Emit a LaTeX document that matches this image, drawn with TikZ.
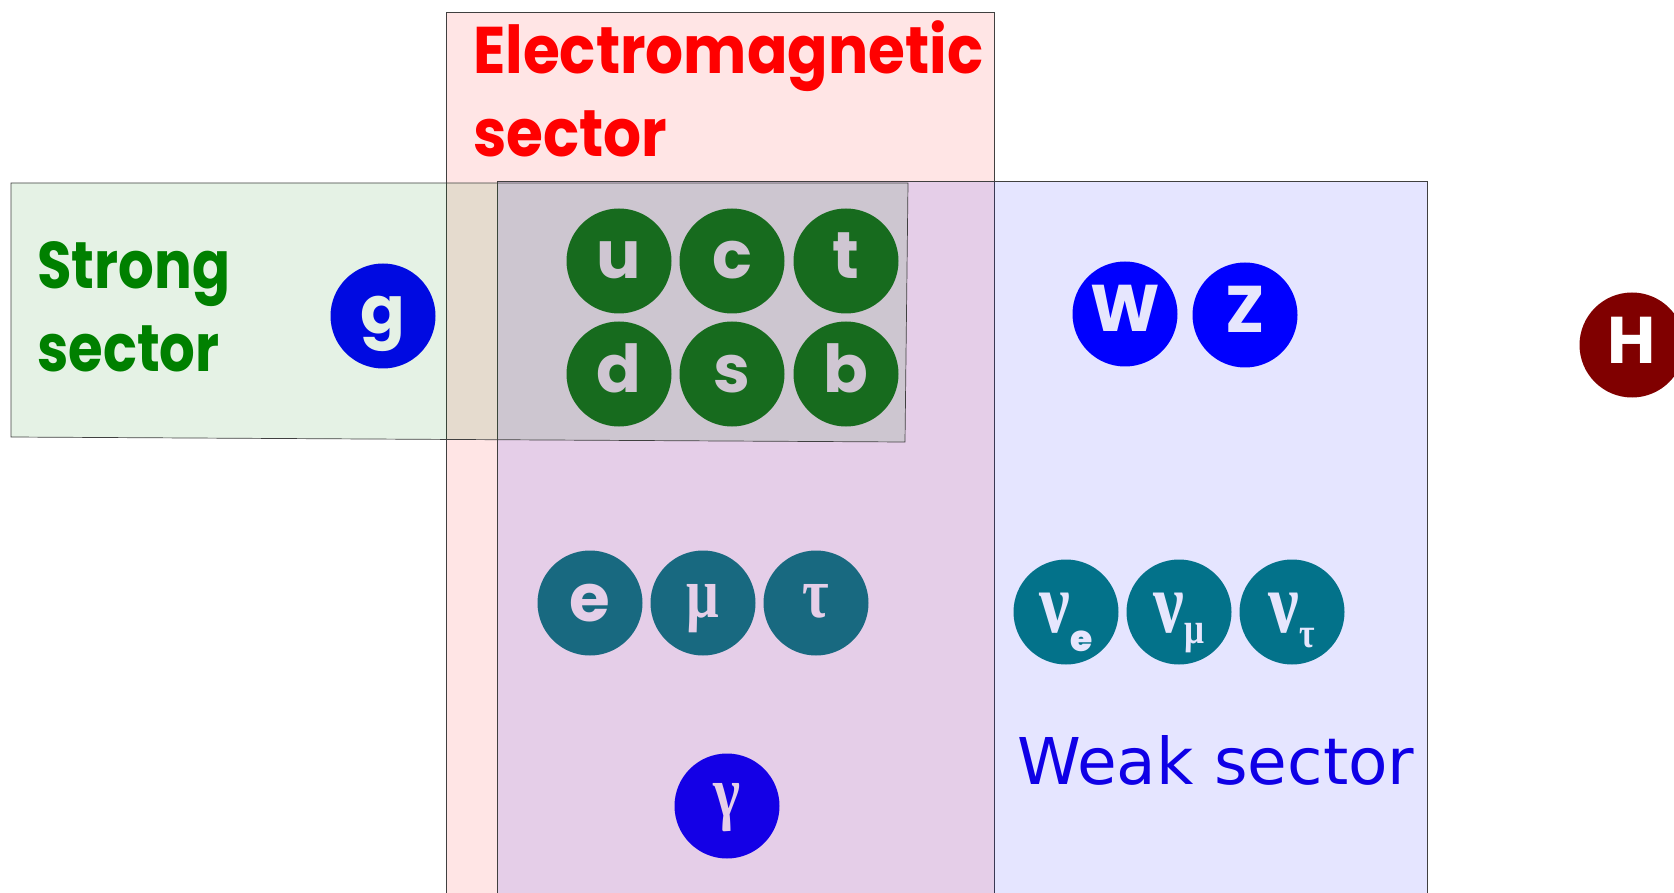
\documentclass[tikz,border=0pt]{standalone}
\usepackage{fontspec}
\newfontfamily\secfont{Poppins Bold}[FakeStretch=0.85]
\newfontfamily\emfont{Poppins Bold}[FakeStretch=0.905]
\newfontfamily\ltrfont{Poppins Bold}
\newfontfamily\gkfont{Liberation Serif}[FakeStretch=0.8]
\newfontfamily\weakfont{DejaVu Sans}
\definecolor{quark}{RGB}{23,107,30}
\definecolor{gluon}{RGB}{0,10,225}
\definecolor{lepton}{RGB}{24,105,128}
\definecolor{neutrino}{RGB}{3,114,138}
\definecolor{photon}{RGB}{20,0,230}
\definecolor{boson}{RGB}{0,0,255}
\definecolor{higgs}{RGB}{128,0,0}
\definecolor{strongtxt}{RGB}{0,128,0}
\definecolor{weaktxt}{RGB}{15,0,230}
\definecolor{strongbg}{RGB}{229,241,229}
\definecolor{threebg}{RGB}{207,198,210}
\definecolor{emweakbg}{RGB}{229,207,232}
\definecolor{weakbg}{RGB}{230,230,253}

\begin{document}
\begin{tikzpicture}[x=1pt,y=-1pt,
  sectorbox/.style={draw=black!75,line width=0.7pt,fill opacity=0.1},
  title/.style={anchor=base west,inner sep=0pt,font=\secfont\fontsize{66}{66}\selectfont},
  particle/.style={circle,minimum size=105pt,inner sep=0pt,text height=36pt,text depth=0pt,
    font=\ltrfont\fontsize{66}{66}\selectfont},
  greek/.style={text height=28pt,font=\gkfont\bfseries\fontsize{72}{72}\selectfont},
  neutr/.style={particle,fill=neutrino,text=weakbg,text height=40pt,
    font=\gkfont\bfseries\fontsize{86}{86}\selectfont}]
\useasboundingbox (0,0) rectangle (1674,893);
\clip (0,0) rectangle (1674,893);
\draw[sectorbox,fill=red] (446,12) rectangle (994,920);
\draw[sectorbox,fill=blue] (497,181) rectangle (1427,920);
\draw[sectorbox,fill=green!50!black] (11,183) -- (908,183) -- (905,442) -- (11,437) -- cycle;

\node[title,text=red,font=\emfont\fontsize{66}{66}\selectfont] (em1) at (473,74) {Electromagnetic};
\node[title,text=red,font=\emfont\fontsize{66}{66}\selectfont] (em2) at (473,157) {sector};
\node[title,text=strongtxt] (st1) at (37,289) {Strong};
\node[title,text=strongtxt] (st2) at (37,372) {sector};
\node[anchor=base west,inner sep=0pt,text=weaktxt,font=\weakfont\fontsize{64.5}{64.5}\selectfont] (wk) at (1017,784) {Weak sector};

\node[particle,fill=gluon,text=strongbg] (g) at (383,316) {g};
\node[particle,fill=quark,text=threebg] (u) at (619,261) {u};
\node[particle,fill=quark,text=threebg] (c) at (732,261) {c};
\node[particle,fill=quark,text=threebg] (t) at (846,261) {t};
\node[particle,fill=quark,text=threebg] (d) at (619,374) {d};
\node[particle,fill=quark,text=threebg] (s) at (732,374) {s};
\node[particle,fill=quark,text=threebg] (b) at (846,374) {b};

\node[particle,fill=lepton,text=emweakbg] (e) at (590,603) {e};
\node[particle,greek,fill=lepton,text=emweakbg] (mu) at (703,603) {μ};
\node[particle,greek,fill=lepton,text=emweakbg] (tau) at (816,603) {τ};
\node[particle,greek,fill=photon,text=emweakbg,text height=20pt] (gamma) at (727,806) {γ};

\node[neutr] (nue) at (1066,612) {ν\raisebox{-19pt}{\ltrfont\fontsize{36}{36}\selectfont e}};
\node[neutr] (numu) at (1179,612) {ν\raisebox{-11pt}{\fontsize{44}{44}\selectfont μ}};
\node[neutr] (nutau) at (1292,612) {ν\raisebox{-15pt}{\fontsize{42}{42}\selectfont τ}};

\node[particle,fill=boson,text=weakbg] (W) at (1125,314) {W};
\node[particle,fill=boson,text=weakbg] (Z) at (1245,315) {Z};
\node[particle,fill=higgs,text=white] (H) at (1632,345) {H};
\end{tikzpicture}
\end{document}
